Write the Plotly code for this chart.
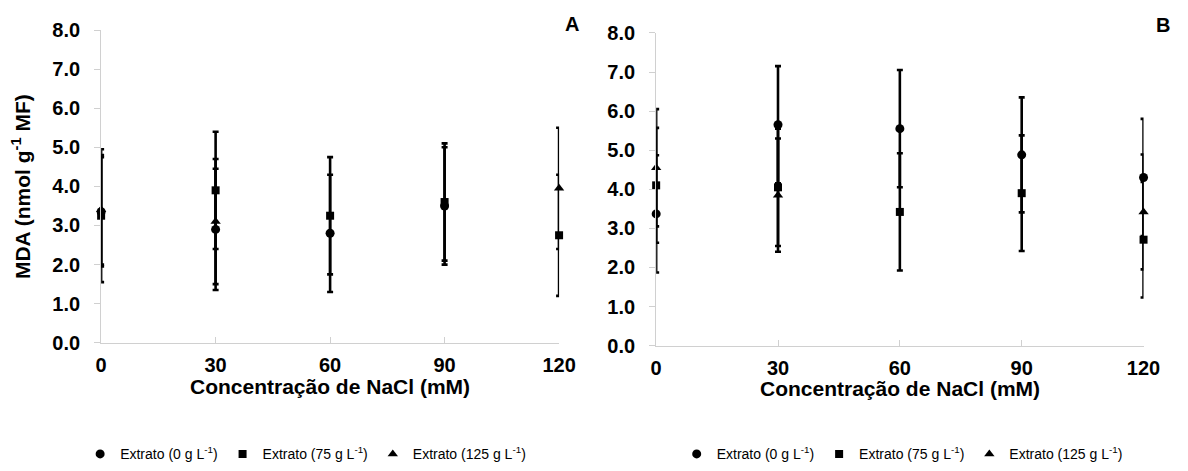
import plotly.graph_objects as go

# ---- data ----
nacl = [0, 30, 60, 90, 120]
x_tick_labels = ["0", "30", "60", "90", "120"]
y_tick_vals = [0, 1, 2, 3, 4, 5, 6, 7, 8]

series_names = ["Extrato (0 g L<sup>-1</sup>)", "Extrato (75 g L<sup>-1</sup>)", "Extrato (125 g L<sup>-1</sup>)"]

# Panel A
a_0g = [3.35, 2.9, 2.8, 3.5, None]
a_0g_err = [1.4, 1.55, 1.5, 1.5, None]
a_75g = [3.25, 3.9, 3.25, 3.6, 2.75]
a_75g_err = [1.7, 1.5, 1.5, 1.5, 1.55]
a_125g = [3.4, 3.1, None, None, 3.95]
a_125g_err = [1.4, 1.6, None, None, 1.55]

# Panel B
b_0g = [3.37, 5.65, 5.55, 4.88, 4.3]
b_0g_err = [1.5, 1.5, 1.5, 1.47, 1.5]
b_75g = [4.1, 4.05, 3.42, 3.9, 2.71]
b_75g_err = [1.47, 1.5, 1.5, 1.48, 1.48]
b_125g = [4.55, 3.85, None, None, 3.42]
b_125g_err = [1.5, 1.45, None, None, 1.47]

# ---- style ----
W, H = 1188, 471
NARROW = "Liberation Sans Narrow, Arial Narrow, Liberation Sans, Arial, sans-serif"
SANS = "Liberation Sans, Arial, sans-serif"
symbols = ["circle", "square", "triangle-up"]
sizes = [9, 8, 9]

def px_x(p):
    return p / W

def px_y(p):
    return (H - p) / H

fig = go.Figure()

panels = [
    ("x", "y", "legend", [(a_0g, a_0g_err), (a_75g, a_75g_err), (a_125g, a_125g_err)]),
    ("x2", "y2", "legend2", [(b_0g, b_0g_err), (b_75g, b_75g_err), (b_125g, b_125g_err)]),
]

for xa, ya, lg, data in panels:
    for i, (vals, errs) in enumerate(data):
        fig.add_trace(go.Scatter(
            x=nacl, y=vals, xaxis=xa, yaxis=ya, legend=lg,
            mode="markers", name=series_names[i],
            marker=dict(symbol=symbols[i], size=sizes[i], color="black"),
            error_y=dict(type="data", array=errs, visible=True, color="black",
                         thickness=2.6, width=3),
            cliponaxis=False,
        ))

ax_common_x = dict(range=[0, 120], tickvals=nacl, ticktext=x_tick_labels,
                   showline=True, linecolor="#d0d0d0", linewidth=1,
                   ticks="inside", ticklen=6, tickcolor="#d0d0d0",
                   showgrid=False, zeroline=False, ticklabelstandoff=4,
                   tickfont=dict(family=NARROW, size=20, color="black", weight="bold"))
ax_common_y = dict(range=[0, 8], tickvals=y_tick_vals, tickformat=".1f",
                   showline=True, linecolor="#d0d0d0", linewidth=1,
                   ticks="outside", ticklen=6, tickcolor="#d0d0d0",
                   showgrid=False, zeroline=False, ticklabelstandoff=10,
                   tickfont=dict(family=NARROW, size=20, color="black", weight="bold"))

A_x = [px_x(97), px_x(564)]
A_y = [px_y(348), px_y(20)]
B_x = [px_x(663), px_x(1160)]
B_y = [px_y(351), px_y(23)]

fig.update_layout(
    width=W, height=H,
    margin=dict(l=0, r=0, t=0, b=0),
    paper_bgcolor="white", plot_bgcolor="white",
    xaxis=dict(domain=A_x, anchor="y", **ax_common_x),
    yaxis=dict(domain=A_y, anchor="x", **ax_common_y),
    xaxis2=dict(domain=B_x, anchor="y2", **ax_common_x),
    yaxis2=dict(domain=B_y, anchor="x2", **ax_common_y),
    legend=dict(orientation="h", x=sum(A_x) / 2 - 0.021, y=px_y(465), xanchor="center", yanchor="middle",
                font=dict(family=NARROW, size=14, color="black"), itemwidth=30,
                bgcolor="rgba(0,0,0,0)"),
    legend2=dict(orientation="h", x=sum(B_x) / 2 + 0.002, y=px_y(465), xanchor="center", yanchor="middle",
                 font=dict(family=NARROW, size=14, color="black"), itemwidth=30,
                 bgcolor="rgba(0,0,0,0)"),
    showlegend=True,
)

annotations = [
    dict(text="MDA (nmol g<sup>-1</sup> MF)", x=px_x(16), y=px_y(184), xref="paper", yref="paper",
         textangle=-90, showarrow=False, xanchor="center", yanchor="middle",
         font=dict(family=SANS, size=21, color="black", weight="bold")),
    dict(text="Concentração de NaCl (mM)", x=sum(A_x) / 2, y=px_y(394), xref="paper", yref="paper",
         showarrow=False, xanchor="center", yanchor="middle",
         font=dict(family=NARROW, size=21, color="black", weight="bold")),
    dict(text="Concentração de NaCl (mM)", x=sum(B_x) / 2, y=px_y(396), xref="paper", yref="paper",
         showarrow=False, xanchor="center", yanchor="middle",
         font=dict(family=NARROW, size=21, color="black", weight="bold")),
    dict(text="A", x=px_x(577), y=px_y(14), xref="paper", yref="paper",
         showarrow=False, xanchor="center", yanchor="middle",
         font=dict(family=NARROW, size=20, color="black", weight="bold")),
    dict(text="B", x=px_x(1180), y=px_y(15), xref="paper", yref="paper",
         showarrow=False, xanchor="center", yanchor="middle",
         font=dict(family=NARROW, size=20, color="black", weight="bold")),
]
fig.update_layout(annotations=annotations)

fig.write_html("out.html")
